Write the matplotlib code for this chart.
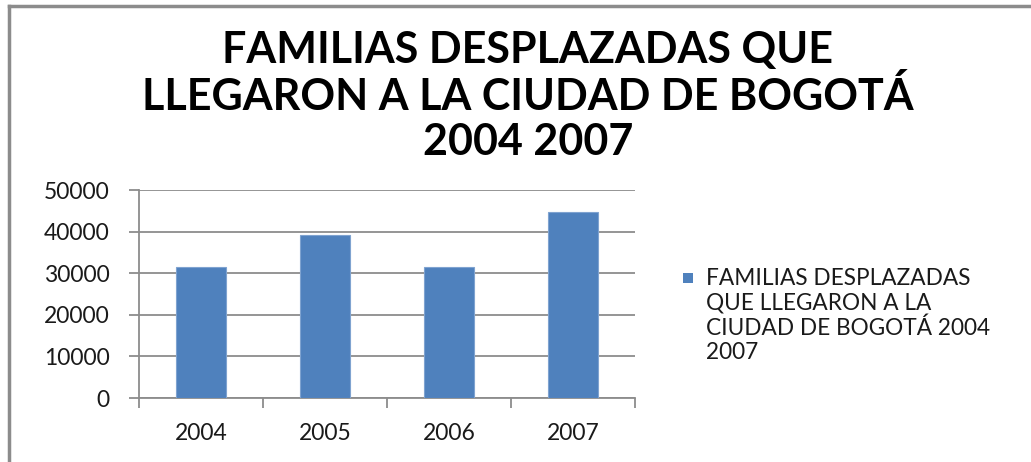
import matplotlib
matplotlib.use("Agg")
from matplotlib import pyplot as plt
from matplotlib.lines import Line2D
from matplotlib.patches import Rectangle
import numpy as np

# Values
years = ["2004", "2005", "2006", "2007"]
familias = [31400, 39200, 31400, 44800]
yticks = [0, 10000, 20000, 30000, 40000, 50000]

title = "FAMILIAS DESPLAZADAS QUE\nLLEGARON A LA CIUDAD DE BOGOTÁ\n2004 2007"
serie = "FAMILIAS DESPLAZADAS\nQUE LLEGARON A LA\nCIUDAD DE BOGOTÁ 2004\n2007"

plt.rcParams['font.family'] = ['Lato', 'DejaVu Sans']

fig = plt.figure(figsize=(10.31, 4.62), dpi=100)
ax = fig.add_axes([0.1348, 0.1385, 0.4811, 0.4502])

x = np.arange(len(years))
ax.bar(x, familias, width=0.4, color='#4F81BD', edgecolor='#7FA3D0',
       linewidth=0.8, zorder=3)

ax.set_xlim(-0.5, len(years) - 0.5)
ax.set_ylim(0, 50000)
ax.set_yticks(yticks)
ax.set_yticklabels([str(v) for v in yticks])
ax.set_xticks(x)
ax.set_xticklabels(years)
ax.set_xticks(np.arange(-0.5, len(years)), minor=True)

ax.grid(axis='y', color='#8C8C8C', linewidth=1.3, zorder=0)
for s in ['top', 'right']:
    ax.spines[s].set_visible(False)
for s in ['left', 'bottom']:
    ax.spines[s].set_color('#8C8C8C')
    ax.spines[s].set_linewidth(1.3)

ax.tick_params(axis='y', length=7, width=1.3, color='#8C8C8C', pad=14,
               labelsize=16.5, labelcolor='#1A1A1A')
ax.tick_params(axis='x', which='major', length=0, pad=18,
               labelsize=16.5, labelcolor='#1A1A1A')
ax.tick_params(axis='x', which='minor', length=7, width=1.3, color='#8C8C8C')

fig.text(0.512, 0.935, title, ha='center', va='top', fontsize=31,
         fontweight='bold', linespacing=1.17, color='black')

# legend: blue square next to the first line of the series name
fig.add_artist(Rectangle((683 / 1031, 1 - 283 / 462), 10 / 1031, 10 / 462,
                         transform=fig.transFigure, facecolor='#4F81BD',
                         edgecolor='none'))
fig.text(706 / 1031, 1 - 268 / 462, serie, ha='left', va='top',
         fontsize=16.3, linespacing=1.21, color='#1A1A1A')

# outer frame of the chart box (left and top edges only)
fig.add_artist(Line2D([0.0088, 0.0088], [0.0, 0.986], color='#8C8C8C',
                      linewidth=2.5, transform=fig.transFigure))
fig.add_artist(Line2D([0.0088, 1.0], [0.986, 0.986], color='#8C8C8C',
                      linewidth=2.5, transform=fig.transFigure))

plt.savefig('out.png', dpi=100)
